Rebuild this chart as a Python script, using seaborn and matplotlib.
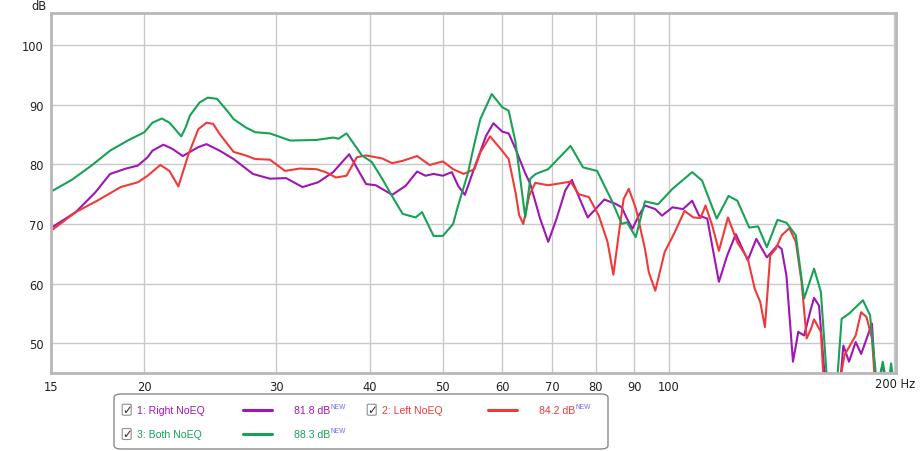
import pandas as pd
import matplotlib.pyplot as plt
import seaborn as sns
from matplotlib.patches import FancyBboxPatch
from matplotlib.lines import Line2D

sns.set_theme(style="whitegrid")
plt.rcParams["font.family"] = ["DejaVu Sans"]

# frequency response readings (Hz, dB), values below 45 dB fall off the chart
right_freq = [15, 16.2, 17.2, 18.0, 18.9, 19.6, 20.2, 20.5, 21.2, 21.8, 22.5, 23.6, 24.2, 25.2,
              26.3, 27.9, 29.4,
              30.9, 32.5, 34.1, 35.7, 37.5, 39.5, 40.7, 42.8, 44.6, 46.2, 47.4, 48.6, 50.0,
              51.4, 52.4, 53.5, 55.0, 57.1, 58.4, 60.0, 61.2, 62.5, 64.3, 65.4, 67.4, 69.1,
              70.9, 72.8, 74.3, 76.3, 78.0, 79.9, 82.1, 84.9, 86.6, 88.0, 89.5, 91.3, 93.0,
              96.0, 98.0, 101.2, 104.5, 107.5, 109.8, 112.6, 114.3, 116.7, 119.7, 122.9,
              127.5, 130.9, 135.2, 139.7, 141.5, 143.6, 146.5, 148.9, 151.6, 154.8, 156.3,
              158.7, 161.2, 163, 169, 171, 174, 177.6, 180.6, 183.6, 186.7, 189, 193, 195]
right_db = [69.3, 72.0, 75.3, 78.4, 79.3, 79.8, 81.2, 82.3, 83.3, 82.6, 81.4, 82.9, 83.4, 82.3,
            80.9, 78.4, 77.6,
            77.7, 76.2, 77.0, 78.7, 81.7, 76.7, 76.5, 74.9, 76.4, 78.8, 78.1, 78.4, 78.1,
            78.7, 76.4, 74.9, 79.2, 84.8, 86.9, 85.5, 85.2, 82.6, 78.7, 76.7, 70.9, 67.0,
            70.9, 75.6, 77.4, 73.9, 71.1, 72.5, 74.1, 73.4, 72.8, 70.9, 69.2, 71.5, 73.1,
            72.5, 71.4, 72.8, 72.5, 73.9, 71.4, 70.9, 66.4, 60.3, 64.7, 68.3,
            63.9, 67.5, 64.4, 66.4, 65.8, 61.3, 46.9, 51.9, 51.3, 55.8, 57.6,
            56.3, 45.7, 42, 42, 49.6, 46.9, 50.2, 48.2, 50.7, 53.3, 42, 46.5, 42]

left_freq = [15, 16.2, 17.3, 18.6, 19.6, 20.2, 21.0, 21.6, 22.2, 22.9, 23.6, 24.2, 24.7, 25.2,
             26.3, 27.3, 28.1, 29.4, 30.8, 32.2, 33.9, 34.9, 36.0, 37.2, 38.4, 39.5, 41.5,
             42.8, 44.2, 46.2, 48.0, 50.0, 51.6, 53.3, 55.1, 56.1, 57.8, 59.7, 61.2, 62.5,
             63.2, 64.0, 65.2, 66.4, 69.1, 74.0, 75.9, 78.3, 80.7, 82.9, 84.4, 86.0, 87.1,
             88.5, 90.5, 93.0, 94.1, 96.0, 98.8, 101.9, 105.0, 107.9, 110.3, 112.0, 114.3,
             116.7, 120.0, 123.5, 127.5, 130.3, 132.5, 134.4, 136.6, 138.9, 141.5, 144.9,
             147.8, 150.4, 152.8, 154.8, 156.3, 159.6, 161.2, 168.3, 171.6, 177.6, 180.6,
             183.6, 186.7, 188.8]
left_db = [68.8, 72.0, 73.9, 76.2, 77.0, 78.1, 79.9, 78.9, 76.3, 81.7, 85.9, 87.0, 86.8, 85.1,
           82.1, 81.5, 80.9, 80.8, 78.9, 79.3, 79.2, 78.7, 77.8, 78.1, 81.2, 81.5, 81.0,
           80.2, 80.6, 81.4, 79.9, 80.5, 79.2, 78.4, 79.2, 82.0, 84.7, 82.6, 80.9, 75.3,
           71.5, 70.0, 74.8, 76.9, 76.5, 77.1, 75.0, 74.5, 71.4, 67.0, 61.5, 69.2, 74.2,
           75.9, 72.5, 65.8, 61.9, 58.8, 65.3, 68.6, 72.2, 71.1, 71.0, 73.1, 69.8,
           65.5, 71.1, 66.9, 64.2, 59.1, 56.9, 52.7, 64.7, 65.8, 68.1, 69.3,
           67.0, 60.3, 50.8, 52.4, 54.0, 51.9, 42, 42, 48.0, 51.3, 55.2,
           54.4, 50.8, 42]

both_freq = [15, 16, 17, 18, 19, 20, 20.5, 21.1, 21.6, 22.4, 22.7, 23.0, 23.7, 24.3, 25.0,
             25.9, 26.3, 27.3, 28.1, 29.4, 31.3, 33.9, 35.7,
             36.3, 37.2, 39.0, 40.2, 41.5, 43.0, 44.2, 46.0, 46.9, 48.6, 50.0, 51.6, 52.4,
             54.0, 55.0, 56.1, 58.1, 60.0, 61.2, 62.5, 63.5, 64.4, 65.4, 66.5, 69.1, 74.0,
             76.9, 80.3, 84.0, 86.6, 88.0, 90.4, 93.0, 96.8, 101.2, 107.5, 110.8, 115.9,
             120.2, 123.5, 128.1, 131.6, 135.2, 139.7, 143.6, 147.8, 151.6, 156.3, 159.6,
             163.0, 167.4, 170.1, 173.8, 181.6, 185.6, 189.9, 193, 196, 198, 200]
both_db = [75.4, 77.4, 79.8, 82.3, 84.0, 85.4, 87.0, 87.7, 87.0, 84.7, 86.2, 88.2, 90.4, 91.2,
           91.0, 88.7, 87.6, 86.2, 85.4, 85.2, 84.0, 84.1,
           84.5, 84.3, 85.2, 81.5, 80.4, 77.6, 74.2, 71.7, 71.1, 72.0, 68.0, 68.0, 70.0, 73.1,
           78.5, 83.1, 87.6, 91.8, 89.6, 89.0, 83.7, 77.0, 71.1, 77.6, 78.4, 79.2, 83.1,
           79.5, 78.9, 73.9, 70.0, 70.3, 67.8, 73.8, 73.3, 75.9, 78.7, 77.3, 70.9,
           74.7, 73.9, 69.4, 69.6, 66.1, 70.7, 70.2, 68.1, 57.5, 62.5, 58.6,
           42, 42, 54.1, 54.9, 57.2, 54.7, 42, 46.9, 42, 46.6, 42]

series_names = ["1: Right NoEQ", "2: Left NoEQ", "3: Both NoEQ"]
series_levels = ["81.8 dB", "84.2 dB", "88.3 dB"]
colors = {"1: Right NoEQ": "#a016b4", "2: Left NoEQ": "#f03a3a", "3: Both NoEQ": "#17a255"}

x_ticks = [15, 20, 30, 40, 50, 60, 70, 80, 90, 100, 200]
y_ticks = [50, 60, 70, 80, 90, 100]

df = pd.concat([
    pd.DataFrame({"freq": right_freq, "db": right_db, "series": series_names[0]}),
    pd.DataFrame({"freq": left_freq, "db": left_db, "series": series_names[1]}),
    pd.DataFrame({"freq": both_freq, "db": both_db, "series": series_names[2]}),
])

W, H = 921, 452
fig = plt.figure(figsize=(W / 100, H / 100), dpi=100)
ax = fig.add_axes([50.7 / W, 1 - 374 / H, (896 - 50.7) / W, (374 - 14) / H])

sns.lineplot(data=df, x="freq", y="db", hue="series", palette=colors,
             estimator=None, sort=False, linewidth=1.5, legend=False, ax=ax)
for ln in ax.lines:
    ln.set_solid_joinstyle("round")

ax.set_xscale("log")
ax.set_xlim(15, 201)
ax.set_ylim(45, 105.4)
ax.set_xticks(x_ticks)
ax.set_xticklabels([str(t) for t in x_ticks[:-1]] + [""])
ax.minorticks_off()
ax.set_yticks(y_ticks)
ax.set_xlabel("")
ax.set_ylabel("")
ax.grid(True, color="#c9c9c9", linewidth=1.0)
ax.tick_params(axis="both", length=0, labelsize=8.3, colors="#222222")
ax.tick_params(axis="x", pad=5)
ax.tick_params(axis="y", pad=5)
for s in ax.spines.values():
    s.set_color("#b8b8b8")
    s.set_linewidth(2)

fig.text(39 / W, 1 - 6 / H, "dB", fontsize=8.3, ha="center", va="center", color="#222222")
fig.text(875 / W, 1 - 385 / H, "200 Hz", fontsize=8.3, ha="left", va="center", color="#222222")


def fx(x):
    return x / W


def fy(y):
    return 1 - y / H


# legend panel
fig.patches.append(FancyBboxPatch((fx(114), fy(450)), fx(608) - fx(114), fy(395) - fy(450),
                                  boxstyle="round,pad=0,rounding_size=0.008",
                                  transform=fig.transFigure, facecolor="white",
                                  edgecolor="#8a8a8a", linewidth=1.0))

leg_font = ["Liberation Sans", "DejaVu Sans"]
entries = [(0, 126.7, 410.7), (1, 371.7, 410.7), (2, 126.7, 435.0)]
for i, cx, cy in entries:
    name = series_names[i]
    c = colors[name]
    fig.patches.append(FancyBboxPatch((fx(cx - 4.5), fy(cy + 5.5)), 9 / W, 11 / H,
                                      boxstyle="round,pad=0,rounding_size=0.002",
                                      transform=fig.transFigure, facecolor="white",
                                      edgecolor="#8f8f8f", linewidth=0.8))
    fig.text(fx(cx), fy(cy), "\u2713", fontsize=8.5, ha="center", va="center",
             color="#2a2a2a", family=["DejaVu Sans"])
    fig.text(fx(cx + 10.5), fy(cy), name, fontsize=7.6, family=leg_font,
             ha="left", va="center", color=c)
    lx = cx + 116
    fig.lines.append(Line2D([fx(lx), fx(lx + 29)], [fy(cy), fy(cy)], transform=fig.transFigure,
                            color=c, linewidth=2.2))
    fig.text(fx(cx + 203.5), fy(cy), series_levels[i], fontsize=7.6, family=leg_font,
             ha="right", va="center", color=c)
    fig.text(fx(cx + 204), fy(cy - 3), "NEW", fontsize=4.8, family=leg_font,
             ha="left", va="center", color="#6a6af0")

fig.savefig("out.png", dpi=100)
